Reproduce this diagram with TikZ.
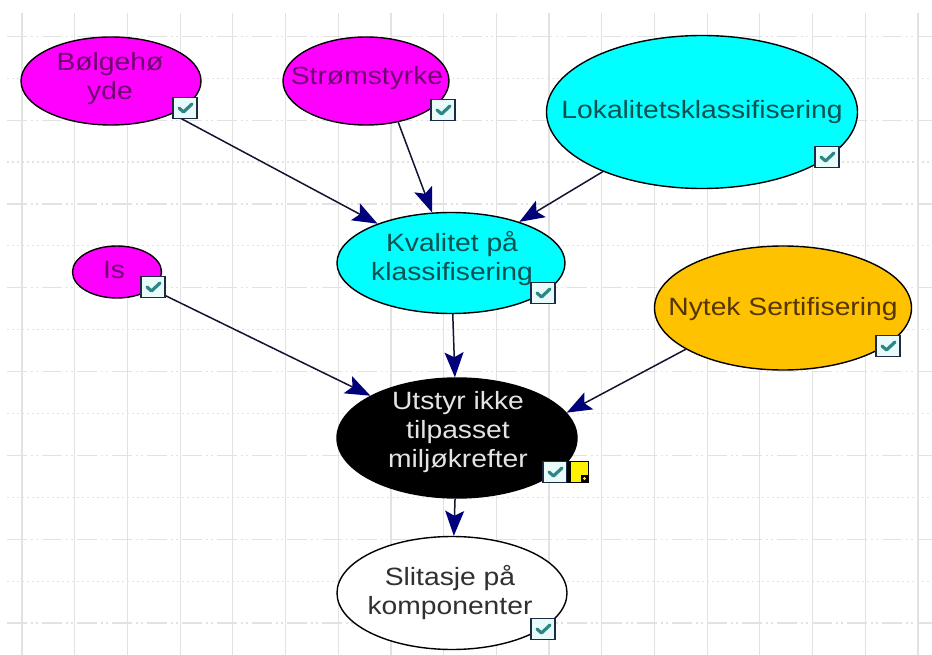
\documentclass[tikz,border=0pt]{standalone}
\usepackage{fontspec}
\setmainfont[FakeStretch=1.13]{Liberation Sans}
\usetikzlibrary{shapes.geometric,arrows.meta,calc}

\definecolor{gridc}{HTML}{E2E2E2}
\definecolor{magfill}{HTML}{FF00FF}
\definecolor{magtext}{HTML}{6E0470}
\definecolor{cyfill}{HTML}{00FFFF}
\definecolor{cytext}{HTML}{0C5050}
\definecolor{goldfill}{HTML}{FFC200}
\definecolor{goldtext}{HTML}{553600}
\definecolor{darktext}{HTML}{E4E4E4}
\definecolor{greytext}{HTML}{303030}
\definecolor{navy}{HTML}{00007A}
\definecolor{wire}{HTML}{141432}
\definecolor{chkframe}{HTML}{1C2A44}
\definecolor{chkfill}{HTML}{E8FAFA}
\definecolor{chkmark}{HTML}{2E8585}
\definecolor{notefill}{HTML}{FFF200}

\begin{document}
\begin{tikzpicture}[x=1pt,y=-1pt,
  gridv/.style={gridc, line width=1.2pt},
  griddot/.style={gridc, line width=1.2pt, dash pattern=on 2pt off 3pt},
  griddash/.style={gridc, line width=1.2pt, dash pattern=on 20pt off 4pt on 2pt off 3pt on 2pt off 4pt},
  ell/.style={ellipse, draw=black, line width=1.4pt, inner sep=0pt},
  lbl/.style={align=center, inner sep=0pt, font=\fontsize{25}{29}\selectfont},
  arr/.style={wire, line width=1.5pt, -{Stealth[length=25pt,width=19pt,inset=5pt,fill=navy,color=navy]}},
  chkbox/.style={rectangle, draw=chkframe, fill=chkfill, line width=1.4pt,
    minimum width=24pt, minimum height=21pt, inner sep=0pt,
    path picture={\draw[chkmark, line width=3.2pt, line cap=round, line join=round]
      ($(path picture bounding box.center)+(-6,0)$) -- ++(4.5,4) -- ++(8.5,-8);}},
  notebox/.style={rectangle, draw=black, fill=notefill, line width=1.4pt,
    minimum width=21pt, minimum height=21pt, inner sep=0pt,
    path picture={\fill[black] ($(path picture bounding box.south east)+(-8,-8)$) rectangle (path picture bounding box.south east);
      \fill[notefill] ($(path picture bounding box.south east)+(-4,-4)$) circle (1.6pt);
      \fill[black] (path picture bounding box.north west) rectangle ($(path picture bounding box.south west)+(3,0)$);}}
]
\useasboundingbox (0,0) rectangle (932,655);
\fill[white] (0,0) rectangle (932,655);

% background grid
\foreach \k in {0,...,17} \draw[gridv] ({22+52.7*\k},13) -- ({22+52.7*\k},655);
\foreach \k in {0,2,...,14} \draw[griddash] (7,{623-41.9*\k}) -- (932,{623-41.9*\k});
\foreach \k in {1,3,...,13} \draw[griddot] (7,{623-41.9*\k}) -- (932,{623-41.9*\k});

% node shapes
\node[ell, fill=magfill, minimum width=180pt, minimum height=88pt] (bol) at (111,81) {};
\node[ell, fill=magfill, minimum width=166pt, minimum height=88pt] (str) at (366,81) {};
\node[ell, fill=cyfill, minimum width=311pt, minimum height=153pt] (lok) at (702,112) {};
\node[ell, fill=cyfill, minimum width=228pt, minimum height=101pt] (kva) at (451,263) {};
\node[ell, fill=magfill, minimum width=89pt, minimum height=52pt] (is) at (117,272) {};
\node[ell, fill=goldfill, minimum width=257pt, minimum height=124pt] (nyt) at (783,308) {};
\node[ell, fill=black, minimum width=240pt, minimum height=120pt] (uts) at (457,438) {};
\node[ell, fill=white, minimum width=230pt, minimum height=113pt] (sli) at (452,593) {};

% connectors
\draw[arr] (bol) -- (kva);
\draw[arr] (str.-52) -- (kva);
\draw[arr] (lok) -- (kva);
\draw[arr] (is) -- (uts);
\draw[arr] (kva) -- (uts);
\draw[arr] (nyt.203) -- (uts.13.5);
\draw[arr] (uts) -- (sli);

% labels
\node[lbl, text=magtext] (bolT) at (110,79) {Bølgehø\\yde};
\node[lbl, text=magtext] (strT) at (367,78) {Strømstyrke};
\node[lbl, text=cytext] (lokT) at (702,112) {Lokalitetsklassifisering};
\node[lbl, text=cytext] (kvaT) at (452,259) {Kvalitet på\\klassifisering};
\node[lbl, text=magtext] (isT) at (114,270) {Is};
\node[lbl, text=goldtext] (nytT) at (783,309) {Nytek Sertifisering};
\node[lbl, text=darktext] (utsT) at (458,432) {Utstyr ikke\\tilpasset\\miljøkrefter};
\node[lbl, text=greytext] (sliT) at (450,593) {Slitasje på\\komponenter};

% status boxes
\node[chkbox] (bolC) at (185,108) {};
\node[chkbox] (strC) at (443,110) {};
\node[chkbox] (lokC) at (827,157) {};
\node[chkbox] (kvaC) at (543,293) {};
\node[chkbox] (isC) at (153,287) {};
\node[chkbox] (nytC) at (888,346) {};
\node[chkbox] (utsC) at (555,472) {};
\node[notebox] (utsN) at (578,472) {};
\node[chkbox] (sliC) at (543,629) {};
\end{tikzpicture}
\end{document}
